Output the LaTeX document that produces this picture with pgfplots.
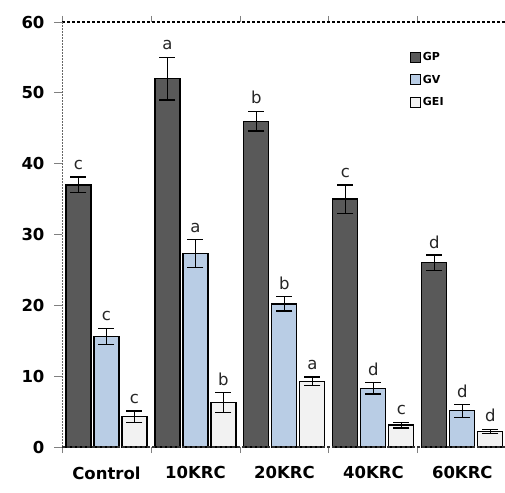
\documentclass[border=0pt]{standalone}
\usepackage{pgfplots}
\pgfplotsset{compat=1.18}
\usepackage{pgfplotstable}
\usepackage{fontspec}
\setmainfont{DejaVu Sans}
\definecolor{cGP}{HTML}{595959}
\definecolor{cGV}{HTML}{B9CDE5}
\definecolor{cGEI}{HTML}{F2F2F2}
\pgfplotstableread{
x GP GPe GV GVe GEI GEIe
0 37.0 1.1 15.6 1.1 4.3 0.8
1 52.0 3.0 27.3 2.0 6.3 1.4
2 46.0 1.4 20.2 1.0 9.3 0.6
3 35.0 2.0 8.3 0.8 3.1 0.4
4 26.0 1.1 5.1 0.9 2.2 0.3
}\data
\pgfplotstableread{
x y lab
-0.315 38.6 c
0.685 55.6 a
1.685 47.9 b
2.685 37.5 c
3.685 27.5 d
0 17.3 c
1 29.8 a
2 21.7 b
3 9.6 d
4 6.5 d
0.315 5.6 c
1.315 8.2 b
2.315 10.4 a
3.315 4.0 c
4.315 3.0 d
}\letters
\begin{document}
\begin{tikzpicture}
\begin{axis}[
  scale only axis, width=443pt, height=425pt,
  xmin=-0.5, xmax=4.48, ymin=0, ymax=60,
  axis line style={draw=none},
  xtick={0,1,2,3,4},
  xticklabels={Control,10KRC,20KRC,40KRC,60KRC},
  minor xtick={-0.5,0.5,1.5,2.5,3.5},
  ytick={0,10,20,30,40,50,60},
  tick align=outside,
  major tick length=8pt, minor tick length=6pt,
  every major x tick/.append style={draw=none},
  every minor x tick/.append style={gray, line width=0.8pt},
  every major y tick/.append style={gray, line width=0.8pt},
  /pgf/number format/assume math mode=true,
  ticklabel style={font=\fontsize{16.5}{16.5}\selectfont\bfseries},
  x tick label style={yshift=-8pt},
  y tick label style={xshift=-6pt},
  bar width=25pt,
  legend style={at={(0.785,0.934)}, anchor=north west, draw=none, fill=none,
    font=\fontsize{11}{11}\selectfont\bfseries, row sep=9pt, inner sep=0pt},
  legend cell align=left,
  legend image code/.code={\draw[#1, line width=1pt] (0pt,-5pt) rectangle (10pt,5pt);},
  errplot/.style={draw=none, mark=none, forget plot,
    error bars/.cd, y dir=both, y explicit,
    error bar style={black, line width=1.3pt},
    error mark options={rotate=90, black, line width=1.3pt, mark size=8pt}},
]
\addplot[ybar, bar shift=-28pt, fill=cGP, draw=black, line width=1.2pt] table[x=x, y=GP] {\data};
\addlegendentry{GP}
\addplot[ybar, bar shift=0pt, fill=cGV, draw=black, line width=1.2pt] table[x=x, y=GV] {\data};
\addlegendentry{GV}
\addplot[ybar, bar shift=28pt, fill=cGEI, draw=black, line width=1.2pt] table[x=x, y=GEI] {\data};
\addlegendentry{GEI}
\addplot[errplot] table[x expr=\thisrow{x}-0.3148, y=GP, y error=GPe] {\data};
\addplot[errplot] table[x=x, y=GV, y error=GVe] {\data};
\addplot[errplot] table[x expr=\thisrow{x}+0.3148, y=GEI, y error=GEIe] {\data};
\addplot[draw=none, mark=none, forget plot, point meta=explicit symbolic,
  nodes near coords, every node near coord/.style={anchor=south, font=\fontsize{16.5}{16.5}\selectfont, text=black!85}]
  table[x=x, y=y, meta=lab] {\letters};
\draw[black, line width=2pt, dash pattern=on 2.5pt off 2.5pt] (rel axis cs:0,1) -- (rel axis cs:1,1);
\draw[black!60, line width=2.2pt, dash pattern=on 2pt off 1pt] (rel axis cs:0,0) -- (rel axis cs:0,1);
\draw[black!80, line width=1.5pt, dash pattern=on 3pt off 2pt] (rel axis cs:0,0) -- (rel axis cs:1,0);
\end{axis}
\pgfresetboundingbox
\path[use as bounding box] (-62pt,-45pt) rectangle (443pt,447pt);
\end{tikzpicture}
\end{document}
